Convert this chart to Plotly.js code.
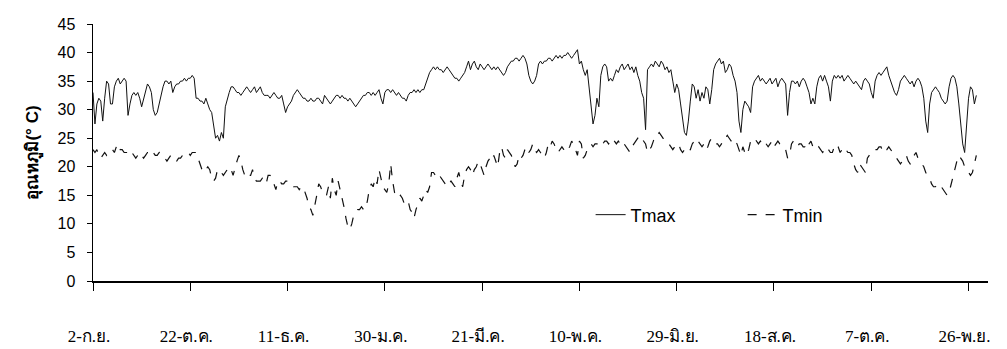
<!DOCTYPE html>
<html>
<head>
<meta charset="utf-8">
<script src="https://cdn.plot.ly/plotly-3.0.1.min.js"></script>
<style>html,body{margin:0;padding:0;background:#fff;}#chart{width:1007px;height:349px;}</style>
</head>
<body>
<div id="chart"></div>
<script>
// Daily temperatures, starting 2-Sep (day 0)
const tmax = [
33,27.5,31,32,31.5,28,32,35,34.5,31,
31,34,35,35.5,34.5,35,35.5,35,29,31,
32.5,33,32.5,33,32,30.5,32,33.5,34.5,34,
33,30,29,29.5,31,33,34,35,35,34.5,
35,33,34,34.5,34.5,35,35,35.5,35,35.5,
35.5,36,35.5,32,32,31.5,31.5,31,32,31,
30,29.5,27.5,25,25.5,24.5,26,25,30.5,32,
33,34,34,33.5,33,33,32.5,33,33.5,34,
33.5,33,33.5,34,33,33.5,34,33,32.5,32.5,
32.5,32,32.5,33,32.5,32,32,32.5,31,29.5,
30.5,31,31.5,32.5,33,33.5,33,32.5,32,32,
31.5,31.5,32,31.5,31.5,32,32,31.5,31,32.5,
32,31.5,31,31.5,32,32.5,32.5,32,32.5,32,
32,31.5,32,31.5,31,30.5,31,31.5,32,32.5,
32.5,33,33,32.5,33,32.5,33,33.5,32,31,
33,33.5,33.5,33,33.5,33,32.5,33,32.5,32,
32,31.5,32.5,33,33,33.5,33,33.5,33,33.5,
33.5,34.5,35.5,36.5,37,37.5,37,37.5,37,37,
36.5,37,37.5,37,36.5,36,35.5,35.5,35,35.5,
36,36.5,37.5,38.5,37,38,38.5,37.5,37,38,
37.5,37,37.5,38,37.5,37,37.5,37,37.5,37,
36.5,36,36.5,37.5,38,38.5,38.5,39,39,38.5,
39,39.5,39,38,36,35,34.5,35,36,38,
38.5,38,38.5,38.5,39,39,38.5,39,39.5,39,
39.5,39,39.5,39.5,40,39.5,39,39.5,40,40.5,
38,38.5,37,36,37,33.5,30,27.5,29,32,
30.5,36,37.5,38,37.5,35,35.5,35,36,37,
36.5,37.5,38,37,37.5,38,37,37.5,36.5,37.5,
36,35,33,32,26.5,37,37.5,38,37.5,38.5,
38,37.5,38.5,38,37,37.5,36.5,37,35,33,
34.5,33.5,31,28,26,25.5,28,31.5,34.5,34,
32,33.5,31.5,33,32,34,33.5,31,33.5,37,
38,38.5,39,38,38.5,36.5,37,38,37.5,36,
35,33,28,26,30,31.5,31,30.5,29.5,34,
35,35.5,36,35,35.5,35,34.5,35,35.5,34.5,
35,35.5,34,35,35.5,35,34.5,29,33,35,
35,34.5,35,34,35,35.5,35,34,33,31,
32,31,34,35.5,36,35,36,35,34,31.5,
35,36,35.5,36,35.5,36,35,35.5,36,35.5,
35,34.5,35,34.5,34,33.5,35,35.5,35,34.5,
33,32,35,36,36.5,36,36.5,37,37.5,36,
35,34,33,32.5,33.5,35,35.5,36,35.5,35,
34.5,35,34,35,35.5,35,34,32,28,26,
31,33,33.5,34,33.5,33,32,31.5,31,31.5,
34,35.5,36,35.5,34,31,28,24,22.5,28,
32,34,33.5,31,32.5
];
const tmin = [
23,22.5,23,22,21.5,22,22.5,22,22.5,22.5,
23,22.5,23.5,24,23,23,22.5,22.5,22.5,23,
22.5,22,21.5,22,22.5,22,21.5,22,22.5,22.5,
22,22.5,22,22,22.5,22,21.5,21.5,21,21.5,
22,21.5,21,21,21.5,21.5,22,22,22.5,22.5,
22,22.5,22.5,22.5,21.5,20.5,19.5,20,19.5,20,
19.5,18,17.5,18,19.5,19,19,18.5,19,19.5,
19,19.5,18.5,20,21,22,21,19.5,18.5,19,
18.5,18.5,19.5,18,17.5,17.5,17.5,18,17.5,17,
18.5,18.5,18,17,16,17.5,17.5,17,17,17.5,
17.5,17,17,16.5,16.5,16.5,16,16.5,16.5,15.5,
14.5,13,12.5,11.5,13,15,17,16.5,15.5,15,
15,16.5,14.5,18,16,15,17.5,16,15,13,
11,9.5,9,10,11.5,12,12.5,12.5,13,12.5,
12.5,14,16,17,16.5,18,17,19.5,18,16.5,
16,15.5,17,20.5,17.5,15.5,15,14.5,15,14.5,
13.5,14,14,12.5,12,11,12.5,13.5,14.5,14,
15,16,15.5,16.5,19,19,18.5,19,18.5,18,
17.5,17,16.5,17,17.5,17,16.5,18,19,17.5,
16.5,18.5,19.5,20,19.5,18.5,19.5,20,21,20.5,
19.5,18.5,20,21,21.5,21,22,21,20,22.5,
23.5,22,21.5,23,22.5,22,21,20,20.5,22,
21.5,22,23,23.5,22.5,23,24,23,22.5,23,
22.5,22,21.5,22.5,24,23.5,24.5,24,23,22.5,
23,23.5,23,22.5,23,23.5,24.5,24,23,22,
24.5,24,21.5,22,23,23.5,24,23.5,24,24,
24,24.5,24,24.5,24.5,24,24.5,25,24.5,24,
24.5,24,24.5,24,23.5,23,22.5,23.5,24,24.5,
25,25.5,25,24.5,24,22.5,23,23.5,24.5,25.5,
25.5,26,25.5,25,24.5,24.5,24,23.5,23,23.5,
23.5,24,23,22.5,23,22.5,22.5,23,24,24.5,
25,24.5,24,23.5,24,23,23.5,24.5,25,24.5,
24,24,23.5,24,25,25,25.5,25,24.5,24,
24.5,24,23,22,23.5,22.5,22,23,24.5,25,
25,24.5,24,24.5,24,24.5,24,23.5,24,24.5,
23.5,24,24.5,24,24,23.5,23,21.5,22,24,
24.5,24,23.5,24,24,23.5,23.5,23,24,24.5,
23.5,23,23,23.5,23,22.5,23,23.5,23,22.5,
22.5,23.5,24,23.5,22.5,23,23.5,23,22.5,22.5,
22,20.5,19.5,19,20.5,20,19.5,19,21.5,22,
22.5,22.5,23,23,23.5,23.5,22.5,23,23,23.5,
23,22.5,22,21.5,21,20.5,21,21.5,22,21,
20.5,21,22,22.5,21.5,21,20.5,20,19,18.5,
18,17,16.5,16.5,17,17,16.5,16,15.5,15,
15.5,17,18.5,20,21,22,21.5,21,20,19.5,
19,18.5,19,20.5,22
];
const tickDays = [0,50,100,150,200,250,300,350,400,450];
const tickLabels = ['2-ก.ย.','22-ต.ค.','11-ธ.ค.','30-ม.ค.','21-มี.ค.','10-พ.ค.','29-มิ.ย.','18-ส.ค.','7-ต.ค.','26-พ.ย.'];
const yTicks = [0,5,10,15,20,25,30,35,40,45];

const days = tmax.map((_, i) => i);

const traces = [
  {x: days, y: tmax, type: 'scatter', mode: 'lines', name: 'Tmax',
   line: {color: '#111', width: 1}},
  {x: days, y: tmin, type: 'scatter', mode: 'lines', name: 'Tmin',
   line: {color: '#111', width: 1.2, dash: 'dash'}}
];

const layout = {
  width: 1007, height: 349,
  margin: {l: 93, r: 19, t: 24, b: 68},
  paper_bgcolor: '#fff', plot_bgcolor: '#fff',
  showlegend: true,
  legend: {orientation: 'h', x: 0.556, xanchor: 'left', y: 0.257, yanchor: 'middle',
           entrywidth: 107, entrywidthmode: 'pixels',
           font: {family: 'Liberation Sans, Arial, sans-serif', size: 18, color: '#000'},
           bgcolor: 'rgba(0,0,0,0)'},
  xaxis: {range: [0, 460], showgrid: false, zeroline: false,
          showline: true, linecolor: '#000', linewidth: 1.5,
          tickmode: 'array', tickvals: tickDays, ticktext: tickLabels,
          ticks: 'outside', ticklen: 8, tickcolor: '#000', tickwidth: 1,
          ticklabelstandoff: 31, ticklabelshift: -4,
          tickfont: {family: 'Liberation Serif, serif', size: 17, color: '#000'}},
  yaxis: {range: [0, 45], showgrid: false, zeroline: false,
          showline: true, linecolor: '#000', linewidth: 1.5,
          tickmode: 'array', tickvals: yTicks,
          ticks: 'outside', ticklen: 5, tickcolor: '#000',
          ticklabelstandoff: 8,
          tickfont: {family: 'Liberation Sans, Arial, sans-serif', size: 16, color: '#000'},
          title: {text: 'อุณหภูมิ(° C)', standoff: 14,
                  font: {family: 'Liberation Sans, Arial, sans-serif', size: 17, color: '#000', weight: 'bold'}}}
};

Plotly.newPlot('chart', traces, layout, {displayModeBar: false, staticPlot: true});
</script>
</body>
</html>
